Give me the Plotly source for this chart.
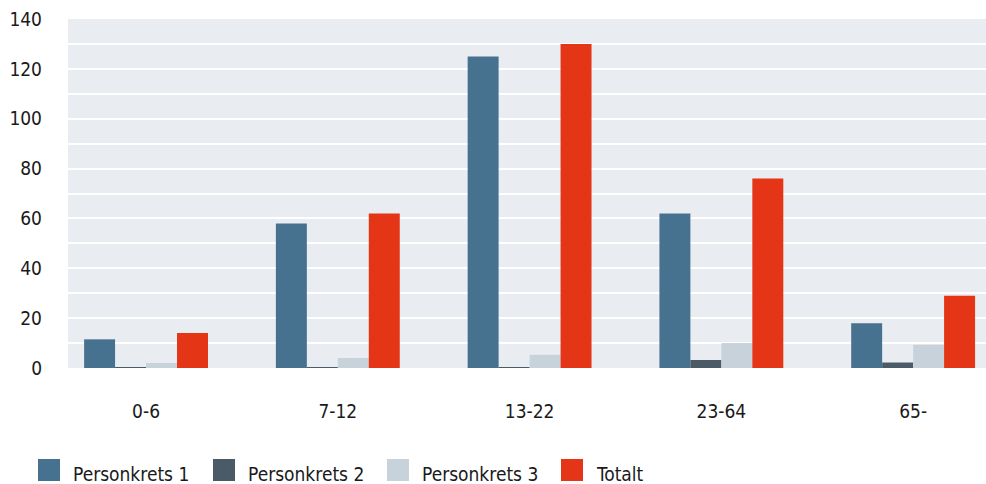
import plotly.graph_objects as go

categories = ["0-6", "7-12", "13-22", "23-64", "65-"]
personkrets1 = [11.5, 58, 125, 62, 18]
personkrets2 = [0.3, 0.3, 0.3, 3.2, 2.2]
personkrets3 = [2, 4, 5.3, 10, 9.3]
totalt = [14, 62, 130, 76, 29]
y_ticks = [0, 20, 40, 60, 80, 100, 120, 140]

series_names = ["Personkrets 1", "Personkrets 2", "Personkrets 3", "Totalt"]
series_values = [personkrets1, personkrets2, personkrets3, totalt]
series_colors = ["#46728f", "#4a5a67", "#c8d2da", "#e43517"]

W, H = 986, 484
ML, MR, MT, MB = 68, 0, 19, 116
PW, PH = W - ML - MR, H - MT - MB

main_font = "DejaVu Sans Condensed, DejaVu Sans, sans-serif"

fig = go.Figure()
for name, vals, color in zip(series_names, series_values, series_colors):
    fig.add_trace(go.Bar(x=categories, y=vals, name=name,
                         marker=dict(color=color, line=dict(width=0))))

def px_x(p):
    return (p - ML) / PW

def px_y(p):
    return (H - MB - p) / PH

# manual legend (squares + labels)
legend_x = [38, 213, 387, 561]
for x0, name, color in zip(legend_x, series_names, series_colors):
    fig.add_shape(type="rect", xref="paper", yref="paper",
                  x0=px_x(x0), x1=px_x(x0 + 22), y0=px_y(481), y1=px_y(459),
                  fillcolor=color, line=dict(width=0), layer="above")
    fig.add_annotation(xref="paper", yref="paper", x=px_x(x0 + 33), y=px_y(474),
                       text=name, showarrow=False, xanchor="left", yanchor="middle",
                       font=dict(family=main_font, size=19, color="#1a1a1a"))

fig.update_layout(
    width=W, height=H,
    margin=dict(l=ML, r=MR, t=MT, b=MB),
    paper_bgcolor="white",
    plot_bgcolor="#e9ecf1",
    barmode="group",
    bargap=0.354,
    bargroupgap=0,
    font=dict(family=main_font, size=19, color="#1a1a1a"),
    showlegend=False,
    xaxis=dict(type="category", range=[-0.407, 4.38], showgrid=False, zeroline=False,
               ticks="", ticklabelstandoff=30, automargin=False,
               tickfont=dict(family=main_font, size=19)),
    yaxis=dict(range=[0, 140], tickvals=y_ticks, showgrid=True, gridcolor="white", gridwidth=1.5,
               zeroline=False, ticks="", ticklabelstandoff=25, automargin=False,
               tickfont=dict(family=main_font, size=19),
               minor=dict(dtick=10, tick0=0, showgrid=True, gridcolor="white", gridwidth=1.5)),
)

fig.write_html("out.html", config={"displayModeBar": False},
               post_script="document.body.style.margin='0';document.body.style.overflow='hidden';")
